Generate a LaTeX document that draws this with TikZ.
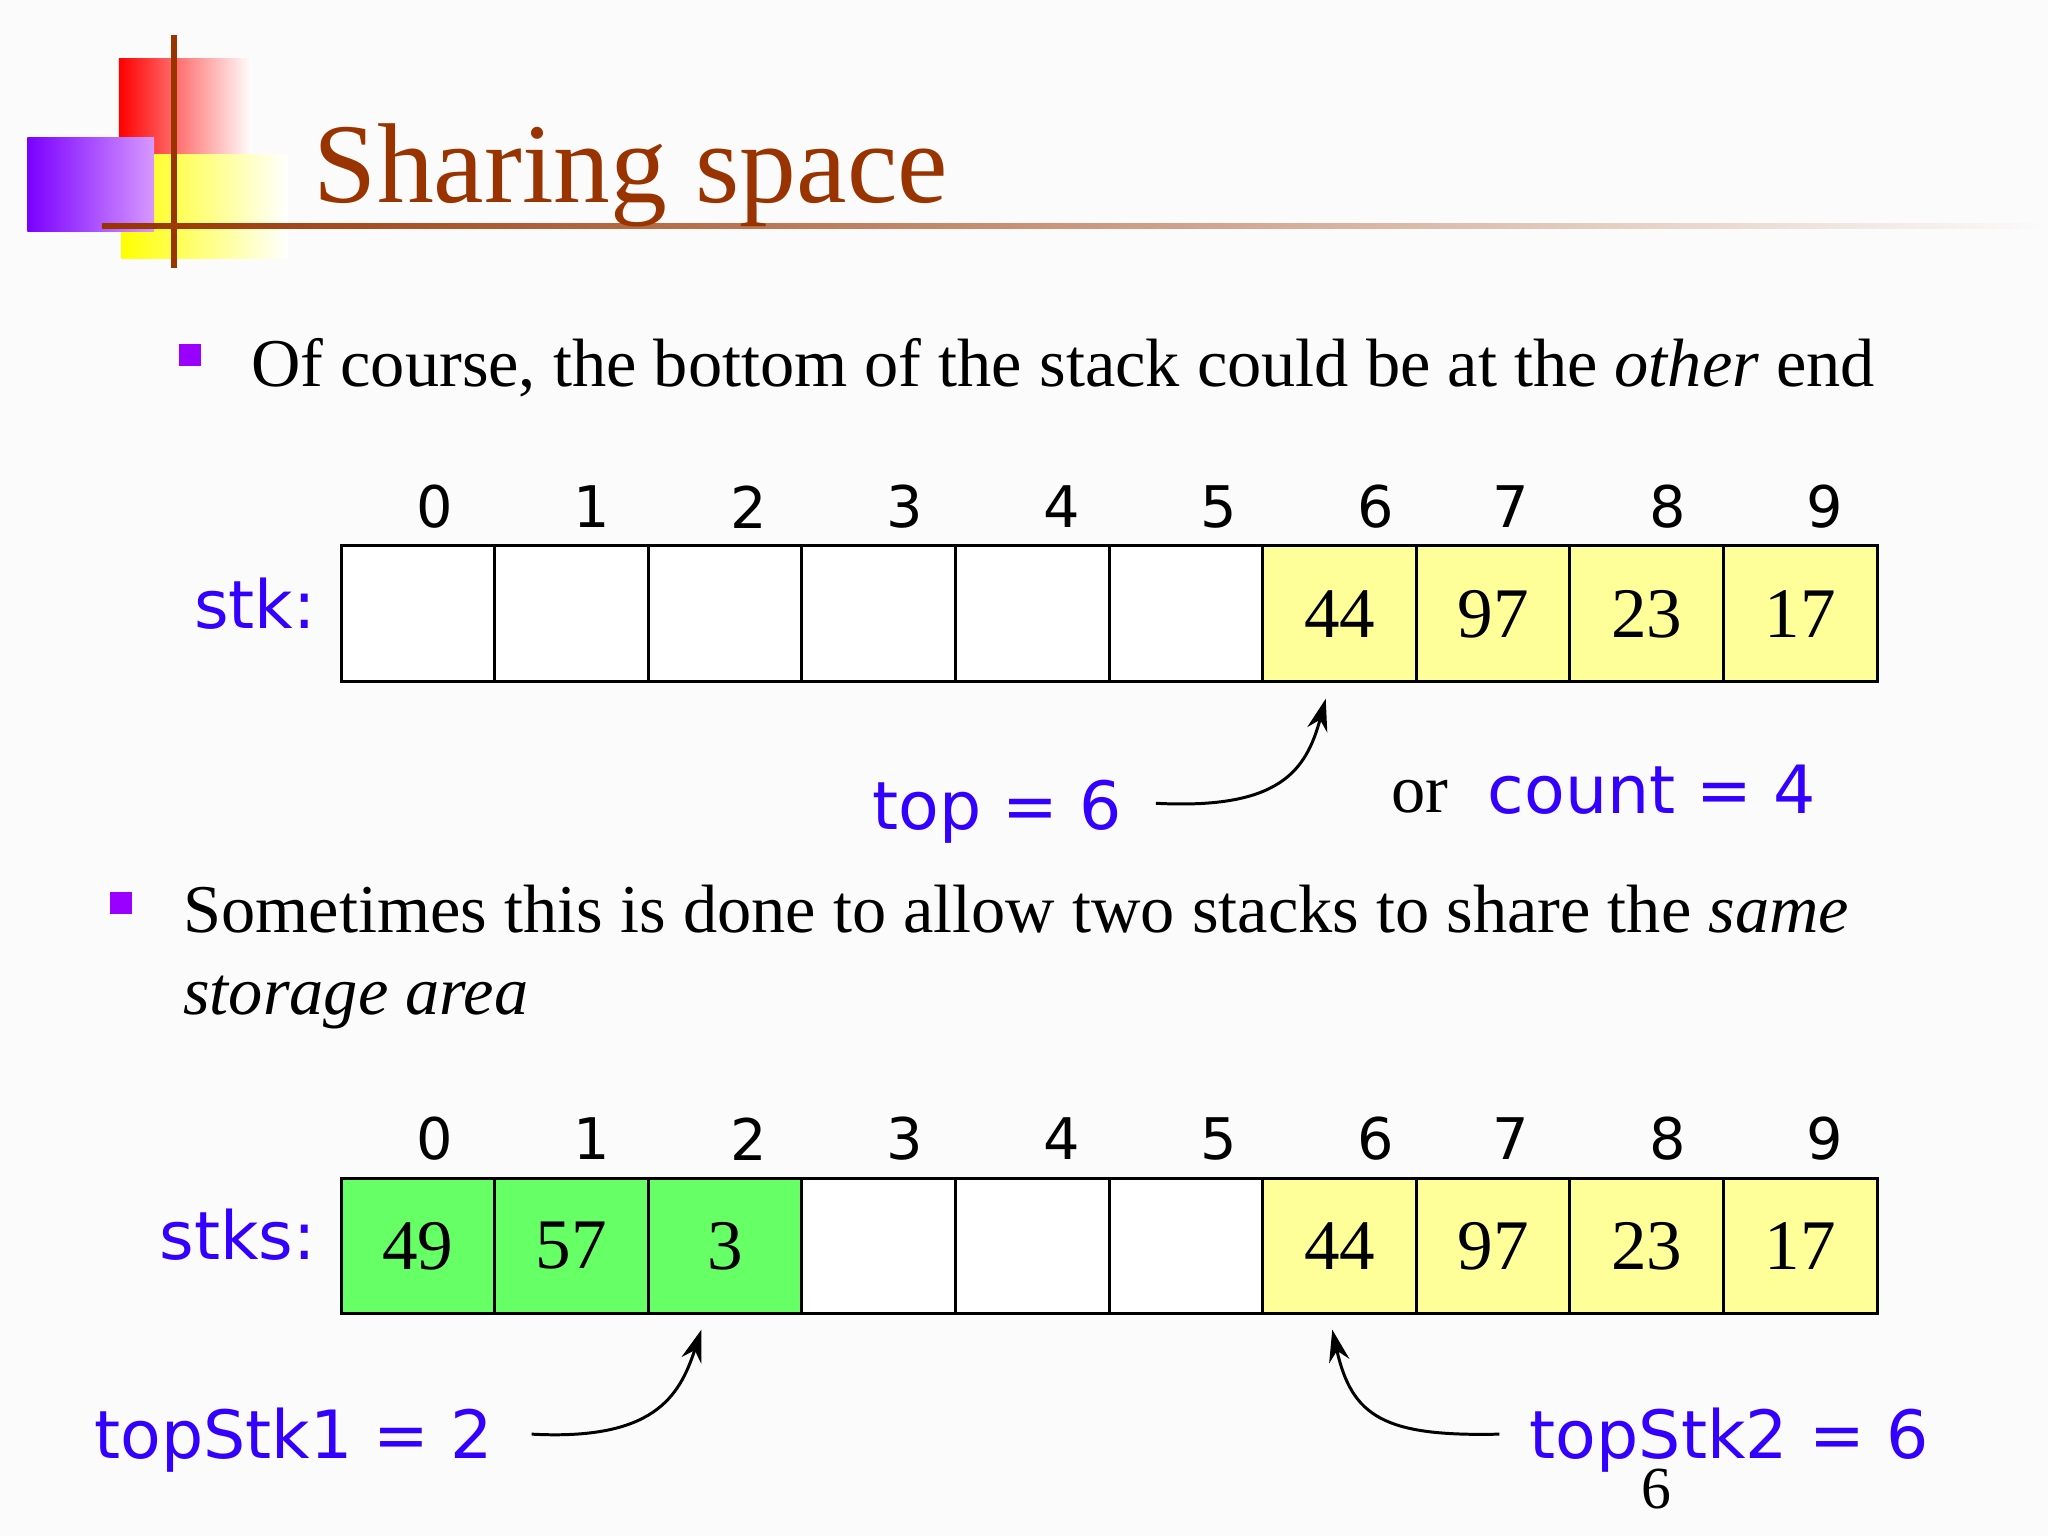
\documentclass[tikz,border=0pt]{standalone}
\usepackage{fontspec}
\usetikzlibrary{arrows.meta}
\setmainfont{Liberation Serif}
\newfontfamily\vfont{DejaVu Sans}
\definecolor{tb}{HTML}{3300FF}
\definecolor{tit}{HTML}{993300}
\definecolor{yel}{HTML}{FFFF99}
\definecolor{grn}{HTML}{66FF66}
\definecolor{bul}{HTML}{9900FF}
\tikzset{cell/.style={draw,line width=1.3pt,minimum width=117.6*0.02cm,minimum height=104*0.02cm,inner sep=0pt,font=\fontsize{31}{36}\selectfont},
lab/.style={font=\vfont\fontsize{29}{34}\selectfont,text=tb},
idx/.style={font=\vfont\fontsize{25}{30}\selectfont},
body/.style={font=\fontsize{29.8}{40}\selectfont,anchor=base west},
arr/.style={-{Stealth[length=14pt,width=9pt]},line width=1.3pt}}
\begin{document}
\begin{tikzpicture}[x=0.02cm,y=-0.02cm]
\fill[white!97!gray] (0,0) rectangle (1568,1176);
\useasboundingbox (0,0) rectangle (1568,1176);
% logo
\shade[left color=red,right color=white] (91,45) rectangle (193,118);
\shade[left color=yellow,right color=white] (93,118) rectangle (220,198);
\shade[left color=bul!80!blue,right color=bul!40!white] (21,105) rectangle (118,177);
\draw[tit,line width=2.5pt] (133,27) -- (133,205);
\shade[left color=tit,right color=white!97!gray] (78,171) rectangle (1568,175);
\node[anchor=base west,text=tit,font=\fontsize{49.5}{56}\selectfont,inner sep=0] (title) at (240,155) {Sharing space};
% bullet 1
\fill[bul] (137,263) rectangle (154,280);
\node[body,inner sep=0] (b1) at (192,296) {Of course, the bottom of the stack could be at the \textit{other} end};
% row 1
\foreach \i/\v in {0/,1/,2/,3/,4/,5/} \node[cell,fill=white] (a\i) at (320+117.6*\i,470) {\v};
\foreach \i/\v in {6/44,7/97,8/23,9/17} \node[cell,fill=yel] (a\i) at (320+117.6*\i,470) {\v};
\foreach \i/\x in {0/333,1/453,2/573,3/693,4/813,5/933,6/1053,7/1157,8/1277,9/1397} {
 \node[idx] (ia\i) at (\x,388) {\i};
 \node[idx] (ib\i) at (\x,872) {\i};}
\node[lab,anchor=east] (stk) at (248,462) {stk:};
\node[lab,anchor=base east] (top) at (865,635) {top = 6};
\coordinate (t1) at (885,615);
\coordinate (t1e) at (1015,535);
\draw[arr] (t1) .. controls (980,620) and (1000,590) .. (t1e);
\node[body,inner sep=0] (or) at (1065,622) {or};
\node[lab,anchor=base west] (cnt) at (1133,623) {count = 4};
% bullet 2
\fill[bul] (84,683) rectangle (101,700);
\node[body,inner sep=0] (b2) at (140,714) {Sometimes this is done to allow two stacks to share the \textit{same}};
\node[body,inner sep=0] (b2b) at (140,777) {\textit{storage area}};
% row 2
\foreach \i/\v in {0/49,1/57,2/3} \node[cell,fill=grn] (c\i) at (320+117.6*\i,954) {\v};
\foreach \i in {3,4,5} \node[cell,fill=white] (c\i) at (320+117.6*\i,954) {};
\foreach \i/\v in {6/44,7/97,8/23,9/17} \node[cell,fill=yel] (c\i) at (320+117.6*\i,954) {\v};
\node[lab,anchor=east] (stks) at (248,945) {stks:};
\node[lab,anchor=base west] (ts1) at (66,1117) {topStk1 = 2};
\node[lab,anchor=base west] (ts2) at (1165,1117) {topStk2 = 6};
\coordinate (s1) at (407,1098);
\coordinate (s1e) at (537,1018);
\coordinate (s2) at (1148,1098);
\coordinate (s2e) at (1020,1018);
\draw[arr] (s1) .. controls (500,1103) and (520,1070) .. (s1e);
\draw[arr] (s2) .. controls (1060,1100) and (1035,1085) .. (s2e);
\node[font=\fontsize{26}{30}\selectfont] (pg) at (1268,1140) {6};
\end{tikzpicture}
\end{document}
